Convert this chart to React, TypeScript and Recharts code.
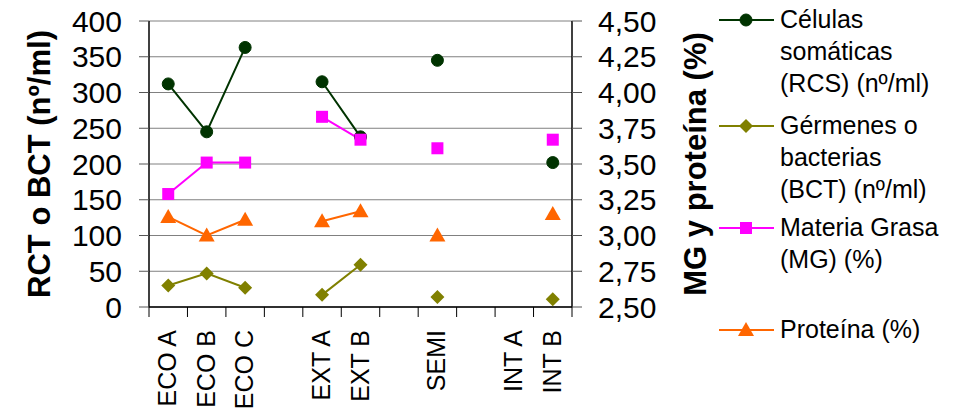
import React from 'react';
import { LineChart, Line, XAxis, YAxis, CartesianGrid } from 'recharts';

const categories = ['ECO A', 'ECO B', 'ECO C', '', 'EXT A', 'EXT B', '', 'SEMI', '', 'INT A', 'INT B'];
const rcs = [312, 245, 363, null, 315, 238, null, 345, null, null, 202];
const bct = [30, 47, 27, null, 17, 59, null, 14, null, null, 11];
const mg = [3.29, 3.51, 3.51, null, 3.83, 3.67, null, 3.61, null, null, 3.67];
const prot = [3.13, 3.0, 3.11, null, 3.1, 3.17, null, 3.0, null, null, 3.15];

const leftTicks = [0, 50, 100, 150, 200, 250, 300, 350, 400];
const rightTicks = [2.5, 2.75, 3.0, 3.25, 3.5, 3.75, 4.0, 4.25, 4.5];
// category boundaries (integers) and category centres (x.5)
const xTicks = Array.from({ length: categories.length * 2 + 1 }, (_, i) => i / 2);

const legendItems = [
  { key: 'rcs', color: '#003300', shape: 'circle', lines: ['Células', 'somáticas', '(RCS) (nº/ml)'], y: 20 },
  { key: 'bct', color: '#808000', shape: 'diamond', lines: ['Gérmenes o', 'bacterias', '(BCT) (nº/ml)'], y: 126 },
  { key: 'mg', color: '#FF00FF', shape: 'square', lines: ['Materia Grasa', '(MG) (%)'], y: 228 },
  { key: 'prot', color: '#FF6600', shape: 'triangle', lines: ['Proteína (%)'], y: 330 },
];

const data = categories.map((c, i) => ({
  x: i + 0.5,
  cat: c,
  rcs: rcs[i],
  bct: bct[i],
  mg: mg[i],
  prot: prot[i],
}));

const FONT = '"Liberation Sans", Arial, sans-serif';

const BLACK_LINE = { stroke: '#000', strokeWidth: 1.5 };
const GRAY_TICK = { stroke: '#555' };
const Y_TICK_STYLE = { fontFamily: FONT, fontSize: 30, fill: '#000' };
const fmtRight = (v: number) => v.toFixed(2).replace('.', ',');

function Marker({ shape, cx, cy, color }: { shape: string; cx: number; cy: number; color: string }) {
  if (cx == null || cy == null || isNaN(cx) || isNaN(cy)) return null;
  if (shape === 'circle') return <circle cx={cx} cy={cy} r={6} fill={color} stroke={color} />;
  if (shape === 'square') return <rect x={cx - 6} y={cy - 6} width={12} height={12} fill={color} />;
  if (shape === 'diamond')
    return (
      <polygon
        points={`${cx},${cy - 7} ${cx + 7},${cy} ${cx},${cy + 7} ${cx - 7},${cy}`}
        fill={color}
      />
    );
  return (
    <polygon points={`${cx},${cy - 8} ${cx + 8},${cy + 6} ${cx - 8},${cy + 6}`} fill={color} />
  );
}

const makeDot = (shape: string, color: string) => (props: any) => (
  <Marker key={`${shape}-${props.index}`} shape={shape} cx={props.cx} cy={props.cy} color={color} />
);
const dotRcs = makeDot('circle', '#003300');
const dotBct = makeDot('diamond', '#808000');
const dotMg = makeDot('square', '#FF00FF');
const dotProt = makeDot('triangle', '#FF6600');

const XTick = (props: any) => {
  const { x, y, payload } = props;
  const v = payload.value;
  if (Number.isInteger(v)) {
    return <line x1={x} x2={x} y1={y} y2={y + 10} stroke="#000" strokeWidth={1} />;
  }
  const label = categories[Math.round(v - 0.5)] || '';
  if (!label) return <g />;
  const bx = x + 8;
  const by = y + 23;
  return (
    <text
      x={bx}
      y={by}
      transform={`rotate(-90, ${bx}, ${by})`}
      textAnchor="end"
      fontFamily={FONT}
      fontSize={25}
      fill="#000"
    >
      {label}
    </text>
  );
};

const LeftTitle = (props: any) => {
  const vb = props.viewBox || { x: 0, y: 21, width: 149, height: 286 };
  const cx = vb.x + 50;
  const cy = vb.y + vb.height / 2;
  return (
    <text
      transform={`translate(${cx}, ${cy}) rotate(-90)`}
      textAnchor="middle"
      fontFamily={FONT}
      fontSize={31}
      fontWeight="bold"
      fill="#000"
    >
      RCT o BCT (nº/ml)
    </text>
  );
};

const RightTitle = (props: any) => {
  const vb = props.viewBox || { x: 572, y: 21, width: 140, height: 286 };
  const cx = vb.x + 134;
  const cy = vb.y + vb.height / 2;
  return (
    <text
      transform={`translate(${cx}, ${cy}) rotate(-90)`}
      textAnchor="middle"
      fontFamily={FONT}
      fontSize={31}
      fontWeight="bold"
      fill="#000"
    >
      MG y proteína (%)
    </text>
  );
};

const leftLabel = <LeftTitle />;
const rightLabel = <RightTitle />;

function LegendOverlay() {
  return (
    <svg width={966} height={410} style={{ position: 'absolute', left: 0, top: 0, pointerEvents: 'none' }}>
      {legendItems.map((it) => (
        <g key={it.key}>
          <line x1={719} x2={774} y1={it.y} y2={it.y} stroke={it.color} strokeWidth={2} />
          <Marker shape={it.shape} cx={746} cy={it.y} color={it.color} />
          {it.lines.map((t, j) => (
            <text key={j} x={780} y={it.y + 8 + j * 32} fontFamily={FONT} fontSize={25} fill="#000">
              {t}
            </text>
          ))}
        </g>
      ))}
    </svg>
  );
}

export default function App() {
  return (
    <div style={{ position: 'absolute', left: 0, top: 0, width: 966, height: 410, background: '#fff' }}>
      <LineChart
        width={966}
        height={410}
        data={data}
        margin={{ top: 21, right: 254, bottom: 0, left: 0 }}
      >
        <CartesianGrid vertical={false} stroke="#808080" strokeWidth={1} yAxisId="left" />
        <XAxis
          xAxisId="x"
          dataKey="x"
          type="number"
          domain={[0, 11]}
          ticks={xTicks}
          height={103}
          tick={<XTick />}
          tickLine={false}
          tickSize={0}
          tickMargin={0}
          axisLine={BLACK_LINE}
          interval={0}
          allowDataOverflow
        />
        <YAxis
          yAxisId="left"
          orientation="left"
          width={149}
          domain={[0, 400]}
          ticks={leftTicks}
          interval={0}
          tickSize={10}
          tickMargin={17}
          tickLine={GRAY_TICK}
          axisLine={BLACK_LINE}
          tick={Y_TICK_STYLE}
          label={leftLabel}
          allowDataOverflow
        />
        <YAxis
          yAxisId="right"
          orientation="right"
          width={140}
          domain={[2.5, 4.5]}
          ticks={rightTicks}
          interval={0}
          tickSize={10}
          tickMargin={16}
          tickLine={GRAY_TICK}
          axisLine={BLACK_LINE}
          tick={Y_TICK_STYLE}
          tickFormatter={fmtRight}
          label={rightLabel}
          allowDataOverflow
        />
        <Line
          xAxisId="x"
          yAxisId="left"
          dataKey="bct"
          stroke="#808000"
          strokeWidth={2}
          dot={dotBct}
          isAnimationActive={false}
          connectNulls={false}
        />
        <Line
          xAxisId="x"
          yAxisId="left"
          dataKey="rcs"
          stroke="#003300"
          strokeWidth={2}
          dot={dotRcs}
          isAnimationActive={false}
          connectNulls={false}
        />
        <Line
          xAxisId="x"
          yAxisId="right"
          dataKey="prot"
          stroke="#FF6600"
          strokeWidth={2}
          dot={dotProt}
          isAnimationActive={false}
          connectNulls={false}
        />
        <Line
          xAxisId="x"
          yAxisId="right"
          dataKey="mg"
          stroke="#FF00FF"
          strokeWidth={2}
          dot={dotMg}
          isAnimationActive={false}
          connectNulls={false}
        />
      </LineChart>
      <LegendOverlay />
    </div>
  );
}
